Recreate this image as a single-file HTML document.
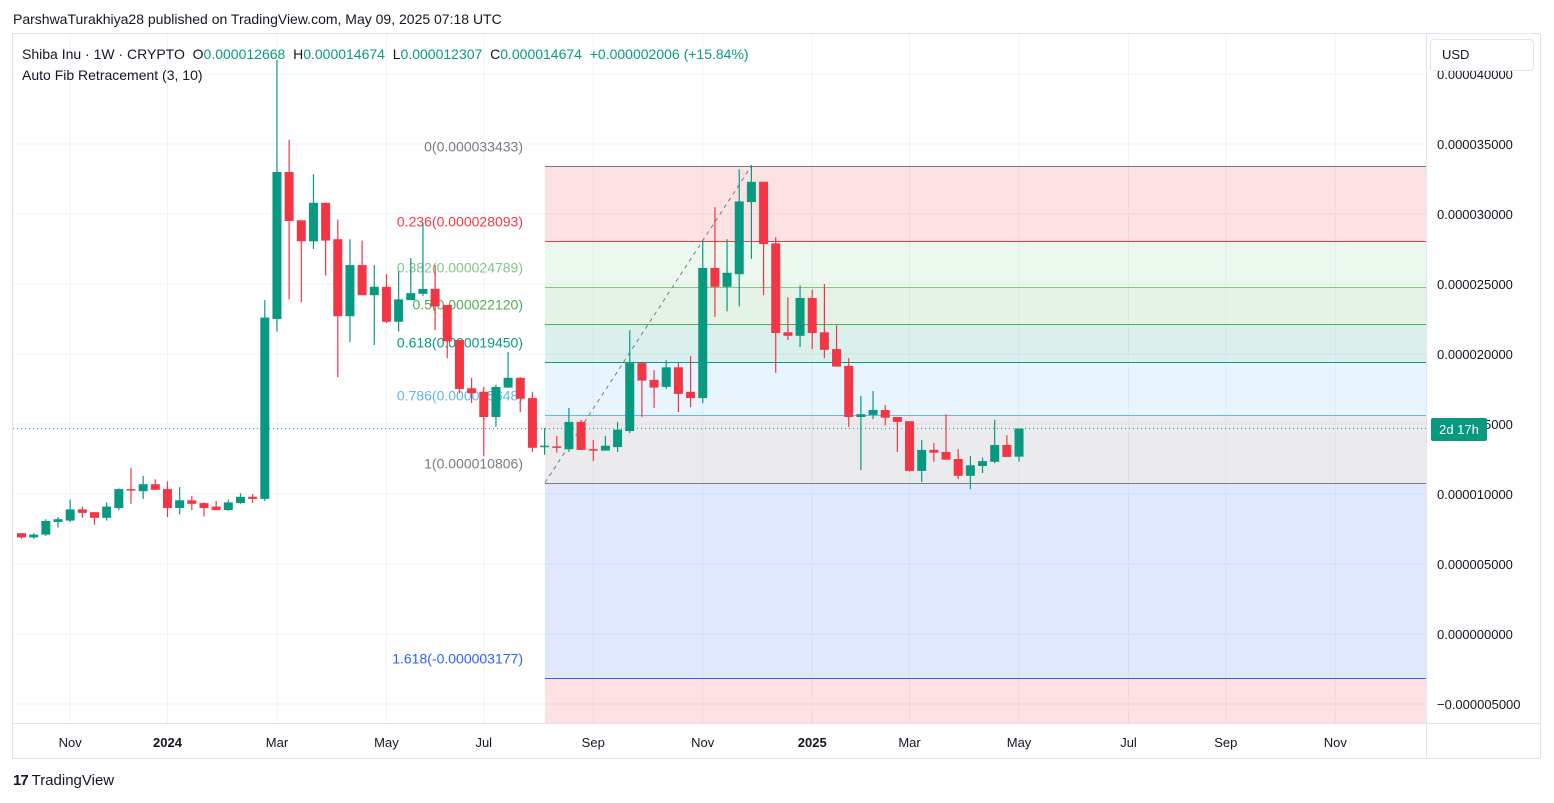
<!DOCTYPE html>
<html><head><meta charset="utf-8">
<style>
body{margin:0;background:#fff;font-family:"Liberation Sans",sans-serif;}
#wrap{position:relative;width:1554px;height:803px;overflow:hidden}
.t{position:absolute;white-space:nowrap}
</style></head>
<body>
<div id="wrap">
<div class="t" style="left:13px;top:11px;font-size:14px;color:#131722">ParshwaTurakhiya28 published on TradingView.com, May 09, 2025 07:18 UTC</div>
<svg id="chart" width="1554" height="803" style="position:absolute;left:0;top:0"></svg>
<div class="t" style="left:22px;top:46px;font-size:14px;color:#131722">Shiba Inu · 1W · CRYPTO&nbsp; <span style="color:#131722">O</span><span style="color:#089981">0.000012668</span>&nbsp; H<span style="color:#089981">0.000014674</span>&nbsp; L<span style="color:#089981">0.000012307</span>&nbsp; C<span style="color:#089981">0.000014674</span>&nbsp; <span style="color:#089981">+0.000002006 (+15.84%)</span></div>
<div class="t" style="left:22px;top:67px;font-size:14px;color:#131722">Auto Fib Retracement (3, 10)</div>
<div class="t" style="left:1430px;top:39px;width:104px;height:32px;border:1px solid #e0e3eb;border-radius:4px;background:#fff;font-size:13px;line-height:30px;padding-left:11px;box-sizing:border-box;color:#131722">USD</div>
<div class="t" style="left:1431px;top:418px;width:56px;height:23px;background:#089981;color:#fff;font-size:13px;line-height:23px;text-align:center;border-radius:2px">2d 17h</div>
<div class="t" style="left:13px;top:772px;font-size:15px;color:#131722"><b style="letter-spacing:-1px">17</b> TradingView</div>
</div>
<script>
const opens=[7.2,6.9,7.1,8.0,8.1,8.9,8.7,8.3,9.0,10.35,10.2,10.7,10.35,9.0,9.55,9.35,9.1,8.85,9.35,9.8,9.65,22.5,33.0,29.55,28.05,30.8,28.2,22.7,26.35,24.2,24.8,22.3,23.85,24.3,24.65,23.5,21.0,17.55,17.3,15.5,17.6,18.3,16.85,13.4,13.4,13.2,15.15,13.2,13.1,13.35,14.5,19.35,18.15,17.65,19.05,17.3,16.85,26.15,24.8,25.7,30.85,32.3,27.9,21.55,21.3,24.0,21.55,20.35,19.15,15.5,15.65,16.0,15.5,15.2,11.65,13.15,13.0,12.5,11.3,12.0,12.3,13.5,12.668];
const highs=[7.2,7.2,8.2,8.35,9.6,9.1,8.7,9.4,10.4,11.85,11.3,11.05,10.9,10.5,9.85,9.4,9.5,9.6,10.05,10.0,23.85,41.0,35.3,29.55,32.85,30.8,29.6,28.2,28.1,26.35,25.7,25.9,26.85,29.35,26.35,23.5,21.0,18.3,17.65,17.8,20.15,18.35,17.3,14.7,14.15,16.15,15.3,13.85,14.15,15.15,21.7,19.45,18.85,19.55,19.35,19.85,28.15,30.5,28.2,33.2,33.5,32.3,28.35,24.05,24.9,24.6,25.0,22.05,19.7,17.0,17.35,16.35,15.5,15.2,13.85,13.65,15.7,13.2,12.7,12.6,15.3,14.2,14.674];
const lows=[6.8,6.8,7.0,7.6,8.0,8.3,7.8,8.1,8.85,9.3,9.65,10.3,8.35,8.55,8.85,8.4,8.85,8.8,9.3,9.35,9.5,21.6,23.9,23.7,27.5,25.6,18.35,20.85,24.2,20.65,22.2,21.6,24.35,24.15,21.7,19.7,17.2,16.5,12.7,14.8,17.6,15.85,13.0,12.8,12.95,13.0,13.15,12.35,13.1,13.0,14.35,15.5,16.15,17.5,15.85,16.2,16.5,22.65,23.05,23.4,26.8,24.2,18.65,21.0,20.5,20.35,19.7,19.1,14.8,11.7,15.35,14.9,13.0,11.6,10.85,12.3,12.45,11.05,10.35,11.5,12.2,12.65,12.307];
const closes=[6.9,7.1,8.07,8.2,8.9,8.65,8.3,9.1,10.35,10.3,10.7,10.3,9.0,9.55,9.3,9.0,8.85,9.4,9.8,9.65,22.6,33.0,29.5,28.05,30.8,28.1,22.7,26.35,24.2,24.8,22.3,23.9,24.35,24.65,23.4,20.9,17.5,17.2,15.5,17.65,18.3,16.8,13.3,13.45,13.3,15.15,13.15,13.1,13.45,14.6,19.35,18.1,17.6,19.05,17.15,16.85,26.15,24.8,25.8,30.9,32.3,27.85,21.5,21.3,24.0,21.5,20.3,19.1,15.5,15.7,16.0,15.45,15.15,11.65,13.15,12.95,12.45,11.3,12.05,12.35,13.5,12.65,14.674];
const priceTicks=[40,35,30,25,20,15,10,5,0,-5];
const monthLabels=["Nov","2024","Mar","May","Jul","Sep","Nov","2025","Mar","May","Jul","Sep","Nov"];
const monthIdx=[4,12,21,30,38,47,56,65,73,82,91,99,108];
const fibRatios=[0,0.236,0.382,0.5,0.618,0.786,1,1.618];
const fibPrices=[33.433,28.093,24.789,22.120,19.450,15.648,10.806,-3.177];
const lastPrice=14.674;
const fibStartIdx=43, fibEndIdx=60;

const NS="http://www.w3.org/2000/svg";
const svg=document.getElementById('chart');
const y=v=>634-v*14;
const x=i=>21.5+i*12.165;
function el(t,a,p){const e=document.createElementNS(NS,t);for(const k in a)e.setAttribute(k,a[k]);(p||svg).appendChild(e);return e;}
const L=13,R=1426,T=34,B=723;
const frame=el('rect',{x:12.5,y:33.5,width:1528,height:725,fill:'none',stroke:'#e0e3eb'});


el('line',{x1:R+0.5,y1:T,x2:R+0.5,y2:758,stroke:'#e0e3eb'});
el('line',{x1:L,y1:B+0.5,x2:1541,y2:B+0.5,stroke:'#e0e3eb'});
priceTicks.forEach(v=>{
  const yy=y(v);
  el('line',{x1:L,y1:yy,x2:R,y2:yy,stroke:'#f0f3fa'});
  const t=el('text',{x:1437,y:yy+5,'font-size':13,fill:'#131722','font-family':'Liberation Sans, sans-serif'});
  t.textContent=(v<0?'\u22120.':'0.')+String(Math.round(Math.abs(v)*1000)).padStart(9,'0');
  
  
});
monthIdx.forEach((m,k)=>{
  const xx=x(m);
  el('line',{x1:xx,y1:T,x2:xx,y2:B,stroke:'#f0f3fa'});
  const t=el('text',{x:xx,y:747,'font-size':13,fill:'#131722','text-anchor':'middle','font-weight':/^\d/.test(monthLabels[k])?'bold':'normal','font-family':'Liberation Sans, sans-serif'});
  t.textContent=monthLabels[k];
  
  
});
const fx=545;
const fibFill=['rgba(242,54,69,0.15)','rgba(129,199,132,0.15)','rgba(76,175,80,0.15)','rgba(8,153,129,0.15)','rgba(100,181,246,0.15)','rgba(120,123,134,0.15)','rgba(41,98,255,0.15)'];
const fibLine=['#787b86','#f23645','#81c784','#4caf50','#089981','#64b5f6','#787b86','#2962ff'];
for(let i=0;i<fibPrices.length-1;i++){
  const z=el('rect',{x:fx,y:y(fibPrices[i]),width:R-fx,height:y(fibPrices[i+1])-y(fibPrices[i]),fill:fibFill[i]});
  
  
}
el('rect',{x:fx,y:y(fibPrices[7]),width:R-fx,height:B-y(fibPrices[7]),fill:'rgba(242,54,69,0.15)'});
fibRatios.forEach((r,i)=>{
  const v=fibPrices[i];
  const yy=Math.round(y(v))+0.5;
  const ln=el('line',{x1:fx,y1:yy,x2:R,y2:yy,stroke:fibLine[i]});
  
  
  const t=el('text',{x:523,y:yy-15,'font-size':14,fill:fibLine[i],'text-anchor':'end','font-family':'Liberation Sans, sans-serif'});
  t.textContent=r+'('+(v<0?'-':'')+(Math.abs(v)/1e6).toFixed(9)+')';
  
  
});
const tl=el('line',{x1:fx,y1:y(fibPrices[6]),x2:x(fibEndIdx),y2:y(fibPrices[0]),stroke:'#787b86','stroke-dasharray':'4 4'});


const lp=el('line',{x1:L,y1:y(lastPrice),x2:R,y2:y(lastPrice),stroke:'#089981','stroke-dasharray':'1 3'});


opens.forEach((o,i)=>{
  const c=closes[i],up=c>=o,col=up?'#089981':'#f23645',xx=x(i);
  const g=el('g',{});
  
  
  el('line',{x1:xx,y1:y(highs[i]),x2:xx,y2:y(lows[i]),stroke:col,'stroke-width':1.2},g);
  const top=y(Math.max(o,c)),h=Math.max(1.5,Math.abs(y(o)-y(c)));
  el('rect',{x:xx-4.5,y:top,width:9,height:h,fill:col},g);
});
</script>
</body></html>
